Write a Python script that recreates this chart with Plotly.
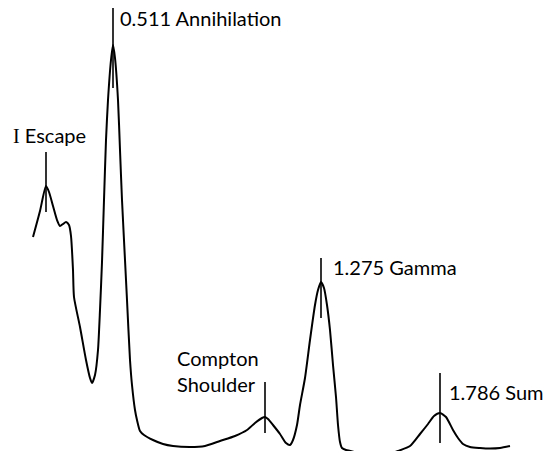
import plotly.graph_objects as go

# Spectrum trace (channel, counts); counts rise upward
channel = [33, 40, 46, 49, 53, 57, 60, 63, 66, 69, 71, 73, 74, 80, 86, 90, 92, 95, 98, 100, 102, 104, 106, 108, 111,
           113, 115, 118, 120, 122, 125, 127, 130, 132, 135, 137, 140, 144, 153, 163, 173, 190, 205, 220, 235, 247,
           255, 262, 265, 268, 273, 280, 286, 290, 293, 297, 300, 305, 310, 315, 318, 321, 324, 327, 330, 333, 336,
           338, 340, 342, 346, 355, 370, 385, 398, 410, 420, 428, 434, 440, 446, 453, 458, 463, 470, 480, 490, 500, 510]
counts = [214, 240, 265, 259, 245, 231, 225, 227, 229, 226, 215, 181, 154, 124, 91, 73, 68, 76, 101, 141, 189, 251,
          311, 351, 391, 406, 393, 351, 301, 251, 191, 151, 91, 66, 41, 31, 20, 16, 11, 7, 5, 4, 5, 10, 15, 21,
          28, 33, 34, 32, 26, 17, 8, 6, 11, 26, 46, 73, 111, 146, 161, 169, 163, 146, 121, 86, 54,
          26, 9, 3, 1, -1, -4, -4, 0, 5, 17, 27, 35, 38, 34, 21, 13, 7, 4, 3, 2.5, 3, 5]

# Peak labels
labels = ["<span style=\"font-family:'Liberation Serif'\">I</span> Escape", "0.511 Annihilation",
          "Compton<br>Shoulder", "1.275 Gamma", "1.786 Sum"]
tick_channel = [46, 113, 265, 321, 440]
tick_top = [299, 443, 69, 193, 78]
tick_bottom = [239, 363, 18, 133, 8]
label_channel = [11, 118, 175, 331, 447]
label_counts = [316, 433, 80, 184, 59]

fig = go.Figure()
fig.add_trace(go.Scatter(x=channel, y=counts, mode="lines",
                         line=dict(color="black", width=2, shape="spline", smoothing=0.6),
                         hoverinfo="skip", showlegend=False))

for i in range(len(labels)):
    fig.add_shape(type="line", xref="x", yref="y",
                  x0=tick_channel[i], x1=tick_channel[i], y0=tick_bottom[i], y1=tick_top[i],
                  line=dict(color="black", width=1.6))
    fig.add_annotation(x=label_channel[i], y=label_counts[i], xref="x", yref="y",
                       text=labels[i], showarrow=False, xanchor="left", yanchor="middle",
                       align="left", font=dict(family="Lato", size=20, color="black"))

fig.update_layout(
    width=549, height=451,
    margin=dict(l=0, r=0, t=0, b=0),
    paper_bgcolor="white", plot_bgcolor="white",
    xaxis=dict(range=[0, 549], visible=False, fixedrange=True),
    yaxis=dict(range=[0, 451], visible=False, fixedrange=True),
    showlegend=False,
)

fig.write_html("out.html", config={"displayModeBar": False},
               post_script="document.body.style.margin='0';")
